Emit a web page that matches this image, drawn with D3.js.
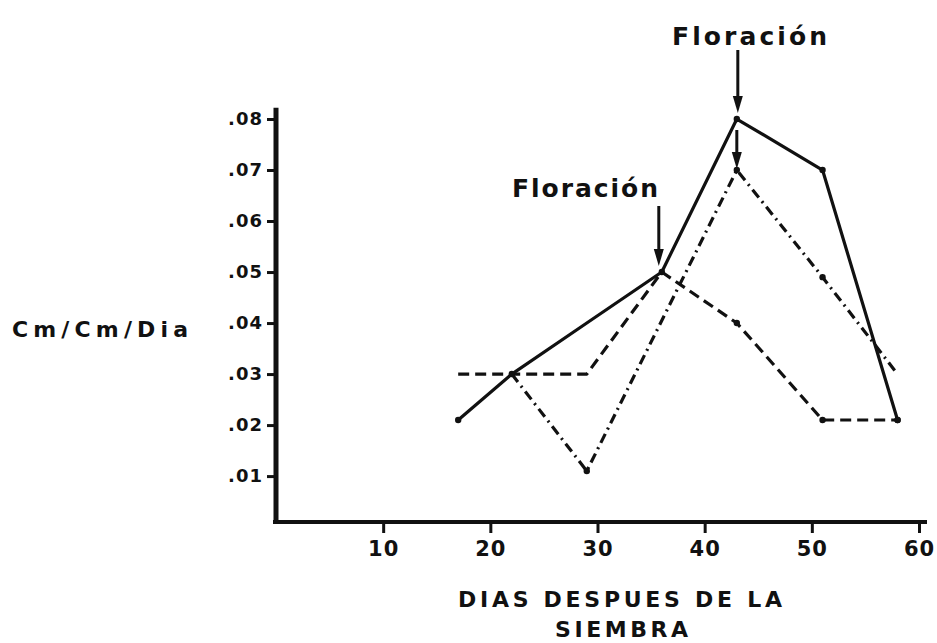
<!DOCTYPE html>
<html>
<head>
<meta charset="utf-8">
<script src="https://cdn.jsdelivr.net/npm/d3@7/dist/d3.min.js"></script>
<style>
  html, body { margin: 0; padding: 0; background: #fff; }
  svg { display: block; }
  text { font-family: "DejaVu Sans", sans-serif; font-weight: bold; fill: #111; }
</style>
</head>
<body>
<svg id="chart" width="937" height="643"></svg>
<script>
// ---- data ----
const days      = [17, 22, 29, 36, 43, 51, 58];
const solidVals = [0.021, 0.030, 0.040, 0.050, 0.080, 0.070, 0.021];
const dashVals  = [0.030, 0.030, 0.030, 0.050, 0.040, 0.021, 0.021];
const dotDashVals = [null, 0.030, 0.011, null, 0.070, 0.049, 0.030];
const xTicks = [10, 20, 30, 40, 50, 60];
const yTicks = [0.01, 0.02, 0.03, 0.04, 0.05, 0.06, 0.07, 0.08];
const yTickLabels = [".01", ".02", ".03", ".04", ".05", ".06", ".07", ".08"];
const floweringLabel = "Floración";
const yTitle = "Cm/Cm/Dia";
const xTitle1 = "DIAS DESPUES DE LA";
const xTitle2 = "SIEMBRA";

const svg = d3.select("#chart");
const x = d3.scaleLinear().domain([0, 60]).range([276, 919]);
const y = d3.scaleLinear().domain([0.001, 0.08]).range([522, 119]);
const ink = "#111";

// ---- axes ----
const yAxis = d3.axisLeft(y).tickValues(yTicks)
  .tickFormat((d, i) => yTickLabels[i]).tickSize(9).tickPadding(4);
const gy = svg.append("g").attr("transform", `translate(${x(0)},0)`).call(yAxis);
gy.select(".domain").remove();
gy.selectAll(".tick line").attr("stroke", ink).attr("stroke-width", 3);
gy.selectAll(".tick text").attr("fill", ink).style("font-size", "18px")
  .attr("letter-spacing", "1px").attr("font-family", "DejaVu Sans").attr("font-weight", "bold");

const xAxis = d3.axisBottom(x).tickValues(xTicks).tickFormat(d3.format("d"))
  .tickSize(11).tickPadding(8);
const gx = svg.append("g").attr("transform", `translate(0,${y.range()[0]})`).call(xAxis);
gx.select(".domain").remove();
gx.selectAll(".tick line").attr("stroke", ink).attr("stroke-width", 3);
gx.selectAll(".tick text").attr("fill", ink).style("font-size", "21px")
  .attr("letter-spacing", "1px").attr("font-family", "DejaVu Sans").attr("font-weight", "bold");

// axis lines (thick, hand-drawn look)
svg.append("line").attr("x1", x(0)).attr("x2", x(0))
  .attr("y1", y(0.0822)).attr("y2", y.range()[0] + 2)
  .attr("stroke", ink).attr("stroke-width", 5);
svg.append("line").attr("x1", x(0) - 3).attr("x2", x(60) + 8)
  .attr("y1", y.range()[0]).attr("y2", y.range()[0])
  .attr("stroke", ink).attr("stroke-width", 4);

// ---- series ----
function pts(vals) {
  return days.map((d, i) => [d, vals[i]]).filter(p => p[1] != null);
}
const line = d3.line().x(p => x(p[0])).y(p => y(p[1]));

const series = [
  { vals: dashVals, dash: "11,6" },
  { vals: dotDashVals, dash: "10,5,2,5" },
  { vals: solidVals, dash: null }
];
series.forEach(s => {
  const p = pts(s.vals);
  svg.append("path").attr("d", line(p)).attr("fill", "none")
    .attr("stroke", ink).attr("stroke-width", 3.2)
    .attr("stroke-linejoin", "round")
    .attr("stroke-dasharray", s.dash);
});
// markers (plotted observation dots)
const solidPts = pts(solidVals);
const markerPts = solidPts.filter((p, i) => i !== 2)
  .concat(pts(dashVals).slice(4), pts(dotDashVals).slice(1, 4));
svg.append("g").selectAll("circle")
  .data(markerPts)
  .join("circle")
  .attr("cx", p => x(p[0])).attr("cy", p => y(p[1])).attr("r", 3.2).attr("fill", ink);

// ---- annotations ----
function arrow(xp, y1, y2) {
  svg.append("line").attr("x1", xp).attr("x2", xp).attr("y1", y1).attr("y2", y2 - 12)
    .attr("stroke", ink).attr("stroke-width", 3);
  svg.append("path")
    .attr("d", `M${xp - 5},${y2 - 17} L${xp + 5},${y2 - 17} L${xp},${y2} Z`)
    .attr("fill", ink);
}
const dTop = days[4], dMid = days[3];
arrow(x(dTop) + 1, 50, y(solidVals[4]) - 6);
arrow(x(dTop), y(solidVals[4]) + 11, y(dotDashVals[4]) - 1);
arrow(x(dMid) - 3, 206, y(solidVals[3]) - 6);

svg.append("text").attr("x", 672).attr("y", 45).style("font-size", "25px")
  .attr("textLength", 155).attr("lengthAdjust", "spacing").text(floweringLabel);
svg.append("text").attr("x", 512).attr("y", 197).style("font-size", "25px")
  .attr("textLength", 146).attr("lengthAdjust", "spacing").text(floweringLabel);

// ---- titles ----
svg.append("text").attr("x", 12).attr("y", 337).style("font-size", "22px")
  .attr("textLength", 176).attr("lengthAdjust", "spacing").text(yTitle);
svg.append("text").attr("x", 458).attr("y", 607).style("font-size", "22px")
  .attr("textLength", 324).attr("lengthAdjust", "spacing").text(xTitle1);
svg.append("text").attr("x", 555).attr("y", 637).style("font-size", "22px")
  .attr("textLength", 133).attr("lengthAdjust", "spacing").text(xTitle2);
</script>
</body>
</html>
